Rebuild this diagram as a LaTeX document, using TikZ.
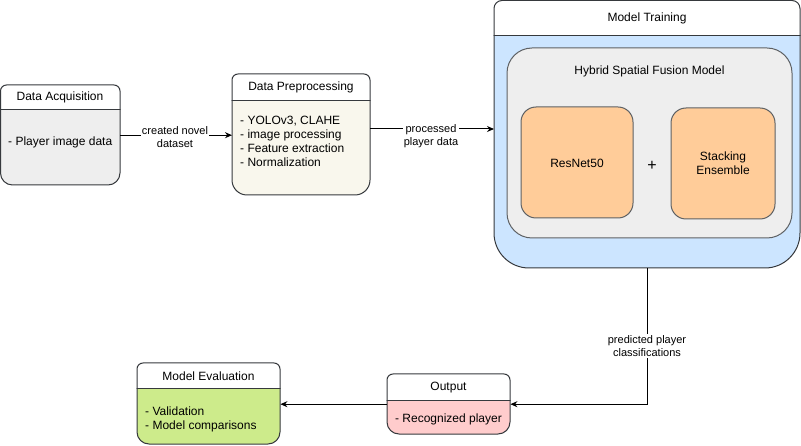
\documentclass[tikz,border=0pt]{standalone}
\usepackage{fontspec}
\setmainfont{Liberation Sans}
\usetikzlibrary{arrows.meta}
\definecolor{dagray}{HTML}{EEEEEE}
\definecolor{dpcream}{HTML}{F9F7ED}
\definecolor{mtblue}{HTML}{CCE5FF}
\definecolor{hybgray}{HTML}{EEEEEE}
\definecolor{orangebox}{HTML}{FFCC99}
\definecolor{megreen}{HTML}{CDEB8B}
\definecolor{outpink}{HTML}{FFCCCC}
\definecolor{strokec}{HTML}{36393D}
\tikzset{
  box/.style={draw=strokec, line width=1pt},
  titletext/.style={font=\fontsize{12}{14}\selectfont, inner sep=0pt},
  bodytext/.style={font=\fontsize{12}{14}\selectfont, inner sep=0pt, align=left},
  lbl/.style={font=\fontsize{11}{13}\selectfont, fill=white, inner sep=1pt, align=center},
  arr/.style={draw=black, line width=1pt, -{Stealth[length=7pt,width=6pt]}},
  inner/.style={draw=strokec!80, line width=1pt},
}
% name, x1, y1, x2, y2, header bottom, fill, top radius, bottom radius
\newcommand\swimbox[9]{%
  \node[inner sep=0pt, minimum width=#4pt-#2pt, minimum height=#5pt-#3pt, anchor=north west] (#1) at (#2,#3) {};
  \begin{scope}
    \clip (#2-3,#3-3) rectangle (#4+3,#6);
    \draw[box, fill=white, rounded corners=#8] (#2,#3) rectangle (#4,#6+20);
  \end{scope}
  \begin{scope}
    \clip (#2-3,#6) rectangle (#4+3,#5+3);
    \draw[box, fill=#7, rounded corners=#9] (#2,#6-60) rectangle (#4,#5);
  \end{scope}
  \draw[box] (#2,#6) -- (#4,#6);
}
\begin{document}
\begin{tikzpicture}[x=1pt, y=-1pt]
\useasboundingbox (0,0) rectangle (801,446);

% Data Acquisition
\swimbox{da}{0.5}{85}{120}{185}{110}{dagray}{6}{12}
\node[titletext] (daT) at (60,97.5) {Data Acquisition};
\node[bodytext, anchor=west] (daB) at (8,142) {- Player image data};

% Data Preprocessing
\swimbox{dp}{232}{74}{370}{195}{101}{dpcream}{6}{15}
\node[titletext] (dpT) at (301,87.5) {Data Preprocessing};
\node[bodytext, anchor=west] (dpB) at (240,141) {- YOLOv3, CLAHE\\- image processing\\- Feature extraction\\- Normalization};

% Model Training
\swimbox{mt}{494}{0.5}{800}{268}{36}{mtblue}{8}{35}
\node[titletext] (mtT) at (647,18) {Model Training};
\draw[inner, fill=hybgray, rounded corners=25] (507,48) rectangle (792,238);
\node[titletext] (hyT) at (649.5,71) {Hybrid Spatial Fusion Model};
\draw[inner, fill=orangebox, rounded corners=15] (521,107) rectangle (633,218);
\node[titletext] (rn) at (577,163) {ResNet50};
\draw[inner, fill=orangebox, rounded corners=15] (671,108) rectangle (775,219);
\node[titletext, align=center] (se) at (723,163.5) {Stacking\\Ensemble};
\node[font=\fontsize{16}{16}\selectfont, inner sep=0pt] (plus) at (652,166) {+};

% Output
\swimbox{out}{387}{374}{510}{434}{401}{outpink}{6}{12}
\node[titletext] (outT) at (448.5,387.5) {Output};
\node[bodytext] (outB) at (448.5,419) {- Recognized player};

% Model Evaluation
\swimbox{me}{137}{363}{280}{444}{389}{megreen}{6}{12}
\node[titletext] (meT) at (208.5,376) {Model Evaluation};
\node[bodytext, anchor=west] (meB) at (145,419) {- Validation\\- Model comparisons};

% connectors
\coordinate (a2) at (0,129);
\draw[arr] (da.east) -- (da.east -| dp.west);
\node[lbl] (l1) at (175,137) {created novel\\dataset};
\draw[arr] (dp.east |- a2) -- (mt.west |- a2);
\node[lbl] (l2) at (431,136) {processed\\player data};
\draw[arr] (mt.south) |- (out.east);
\node[lbl] (l3) at (647,346) {predicted player\\classifications};
\draw[arr] (out.west) -- (out.west -| me.east);
\end{tikzpicture}
\end{document}
